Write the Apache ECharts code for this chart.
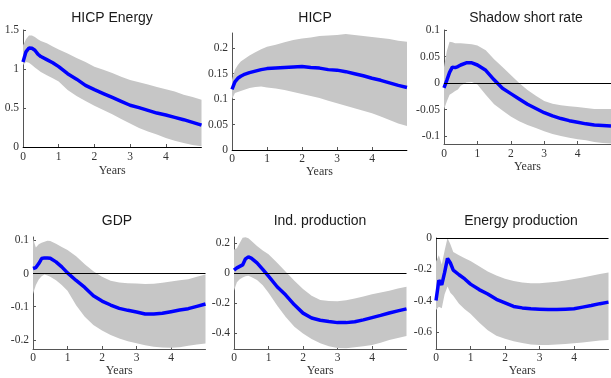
<!DOCTYPE html>
<html><head><meta charset="utf-8">
<script src="https://cdn.jsdelivr.net/npm/echarts@6/dist/echarts.min.js"></script>
<style>html,body{margin:0;padding:0;background:#fff}#c{width:611px;height:378px}</style>
</head><body><div id="c"></div>
<script>
// horizon in months (converted to years on the x axis)
const months = [0,1,2,3,4,5,6,8,10,12,15,18,21,24,27,30,33,36,39,42,45,48,51,54,57,60];
const xTicks = [0,1,2,3,4];

const titles = ["HICP Energy","HICP","Shadow short rate","GDP","Ind. production","Energy production"];

// HICP Energy
const hicpEnergyMean = [1.09,1.22,1.27,1.265,1.24,1.19,1.16,1.12,1.08,1.03,0.94,0.87,0.79,0.735,0.685,0.635,0.585,0.535,0.505,0.47,0.435,0.41,0.38,0.35,0.315,0.28];
const hicpEnergyHi   = [1.30,1.38,1.43,1.43,1.41,1.38,1.36,1.33,1.29,1.25,1.20,1.14,1.09,1.03,0.99,0.95,0.90,0.86,0.83,0.80,0.77,0.74,0.71,0.67,0.64,0.605];
const hicpEnergyLo   = [1.05,1.09,1.08,1.05,1.02,0.99,0.96,0.92,0.88,0.84,0.73,0.655,0.59,0.53,0.475,0.42,0.36,0.30,0.245,0.20,0.16,0.115,0.08,0.05,0.025,0.01];
// HICP
const hicpMean = [0.119,0.134,0.141,0.145,0.148,0.150,0.152,0.155,0.158,0.160,0.161,0.162,0.163,0.164,0.162,0.161,0.158,0.157,0.154,0.150,0.146,0.141,0.137,0.132,0.127,0.123];
const hicpHi   = [0.138,0.158,0.167,0.174,0.178,0.182,0.186,0.192,0.198,0.203,0.207,0.212,0.216,0.219,0.221,0.224,0.225,0.226,0.228,0.226,0.224,0.222,0.220,0.218,0.215,0.213];
const hicpLo   = [0.100,0.112,0.114,0.116,0.118,0.120,0.122,0.124,0.125,0.123,0.121,0.118,0.114,0.110,0.106,0.102,0.097,0.092,0.087,0.082,0.077,0.072,0.066,0.059,0.052,0.047];
// Shadow short rate
const ssrMean = [-0.009,0.005,0.020,0.030,0.029,0.031,0.034,0.038,0.038,0.034,0.024,0.006,-0.010,-0.020,-0.030,-0.040,-0.048,-0.056,-0.062,-0.067,-0.071,-0.074,-0.077,-0.079,-0.080,-0.081];
const ssrHi   = [0.030,0.060,0.078,0.077,0.075,0.075,0.075,0.074,0.073,0.071,0.062,0.045,0.030,0.015,0.000,-0.013,-0.024,-0.034,-0.039,-0.042,-0.044,-0.045,-0.047,-0.049,-0.049,-0.049];
const ssrLo   = [-0.050,-0.035,-0.022,-0.019,-0.015,-0.012,-0.005,0.001,0.002,-0.003,-0.022,-0.040,-0.052,-0.063,-0.072,-0.079,-0.085,-0.091,-0.096,-0.100,-0.103,-0.106,-0.108,-0.111,-0.113,-0.114];
// GDP
const gdpMean = [0.015,0.018,0.030,0.045,0.047,0.047,0.046,0.035,0.020,0.002,-0.021,-0.042,-0.067,-0.083,-0.095,-0.105,-0.111,-0.116,-0.122,-0.122,-0.120,-0.115,-0.110,-0.106,-0.099,-0.092];
const gdpHi   = [0.105,0.078,0.088,0.093,0.096,0.099,0.098,0.090,0.080,0.071,0.052,0.028,0.007,-0.010,-0.022,-0.027,-0.029,-0.030,-0.032,-0.031,-0.028,-0.024,-0.020,-0.017,-0.010,-0.003];
const gdpLo   = [-0.062,-0.035,-0.018,-0.008,-0.003,-0.006,-0.010,-0.020,-0.035,-0.052,-0.096,-0.130,-0.155,-0.172,-0.185,-0.196,-0.204,-0.210,-0.216,-0.221,-0.223,-0.224,-0.222,-0.218,-0.214,-0.211];
// Ind. production
const ipMean = [0.020,0.035,0.045,0.055,0.095,0.108,0.100,0.068,0.025,-0.020,-0.090,-0.145,-0.210,-0.265,-0.297,-0.312,-0.321,-0.328,-0.328,-0.322,-0.310,-0.295,-0.280,-0.264,-0.250,-0.237];
const ipHi   = [0.157,0.165,0.200,0.235,0.238,0.232,0.215,0.180,0.150,0.125,0.070,0.010,-0.050,-0.105,-0.150,-0.178,-0.185,-0.186,-0.180,-0.168,-0.155,-0.140,-0.128,-0.116,-0.102,-0.090];
const ipLo   = [-0.116,-0.060,-0.040,-0.028,-0.020,-0.017,-0.025,-0.045,-0.080,-0.130,-0.215,-0.290,-0.355,-0.400,-0.437,-0.465,-0.485,-0.497,-0.498,-0.492,-0.485,-0.476,-0.462,-0.443,-0.430,-0.417];
// Energy production
const epMean = [-0.40,-0.27,-0.30,-0.22,-0.13,-0.16,-0.205,-0.235,-0.262,-0.295,-0.33,-0.358,-0.392,-0.415,-0.438,-0.447,-0.452,-0.455,-0.458,-0.458,-0.455,-0.452,-0.442,-0.432,-0.42,-0.41];
const epHi   = [-0.15,-0.11,-0.17,-0.08,0.00,-0.04,-0.09,-0.11,-0.13,-0.147,-0.18,-0.215,-0.24,-0.26,-0.275,-0.285,-0.29,-0.29,-0.285,-0.28,-0.272,-0.263,-0.253,-0.242,-0.23,-0.221];
const epLo   = [-0.46,-0.44,-0.45,-0.36,-0.31,-0.35,-0.37,-0.42,-0.455,-0.485,-0.54,-0.59,-0.625,-0.645,-0.66,-0.672,-0.682,-0.685,-0.685,-0.682,-0.678,-0.674,-0.668,-0.662,-0.656,-0.652];

const yTicks = [
  [0,0.5,1,1.5],
  [0,0.05,0.1,0.15,0.2],
  [-0.1,-0.05,0,0.05,0.1],
  [-0.2,-0.1,0,0.1],
  [-0.4,-0.2,0,0.2],
  [-0.6,-0.4,-0.2,0]
];
const yRanges = [[0,1.5],[0,0.23],[-0.115,0.1],[-0.2275,0.11],[-0.503,0.24],[-0.71,0]];

const panels = [
  {mean:hicpEnergyMean, hi:hicpEnergyHi, lo:hicpEnergyLo},
  {mean:hicpMean, hi:hicpHi, lo:hicpLo},
  {mean:ssrMean, hi:ssrHi, lo:ssrLo},
  {mean:gdpMean, hi:gdpHi, lo:gdpLo},
  {mean:ipMean, hi:ipHi, lo:ipLo},
  {mean:epMean, hi:epHi, lo:epLo}
];

// layout
const grids = [
  {left:23, top:30, width:178.5, height:117},
  {left:232, top:33, width:175, height:117},
  {left:444, top:30, width:171, height:114},
  {left:33, top:237, width:172.5, height:114},
  {left:234, top:237, width:172.5, height:114},
  {left:436, top:238, width:172.5, height:113}
];
const titlePos = [[107,6],[310,6],[521,6],[112,209],[315,209],[516,209]];
const nameGaps = [18,15,15,16,16,16];
const labMargin = [4,3,4,3,3,3];

const years = months.map(m => m/12);
const fmt = v => String(Math.round(v*1000)/1000);
const axisColor = '#555';
const serif = '"Liberation Serif", "DejaVu Serif", serif';

const option = {
  animation:false,
  backgroundColor:'#fff',
  title: titles.map((t,i)=>({text:t, left:titlePos[i][0], top:titlePos[i][1], textAlign:'center',
    textStyle:{fontFamily:'"Liberation Sans", Arial, sans-serif', fontSize:14, fontWeight:'normal', color:'#1a1a1a'}})),
  grid: grids.map(g=>Object.assign({containLabel:false}, g)),
  xAxis: grids.map((g,i)=>({
    type:'value', gridIndex:i, min:0, max:5,
    name:'Years', nameLocation:'middle', nameGap:nameGaps[i],
    nameTextStyle:{fontFamily:serif, fontSize:12, color:'#333'},
    axisLine:{onZero:false, lineStyle:{color:axisColor, width:1}},
    axisTick:{inside:true, length:3, customValues:xTicks, lineStyle:{color:axisColor}},
    axisLabel:{customValues:xTicks, margin:labMargin[i], fontFamily:serif, fontSize:11.5, color:'#333', formatter:fmt},
    splitLine:{show:false}
  })),
  yAxis: grids.map((g,i)=>({
    type:'value', gridIndex:i, min:yRanges[i][0], max:yRanges[i][1],
    axisLine:{show:true, onZero:false, lineStyle:{color:axisColor, width:1}},
    axisTick:{show:true, inside:true, length:3, customValues:yTicks[i], lineStyle:{color:axisColor}},
    axisLabel:{customValues:yTicks[i], margin:4, fontFamily:serif, fontSize:11.5, color:'#333', formatter:fmt},
    splitLine:{show:false}
  })),
  series: []
};

panels.forEach((p,i)=>{
  const bandData = years.map((x,k)=>[x,p.lo[k],p.hi[k]]);
  option.series.push({
    type:'custom', xAxisIndex:i, yAxisIndex:i, silent:true, z:1, clip:true,
    data: bandData, encode:{x:0, y:[1,2]},
    renderItem:(params, api)=>{
      if (params.dataIndex !== 0) return;
      const pts = [];
      for (let k=0;k<bandData.length;k++) pts.push(api.coord([bandData[k][0], bandData[k][2]]));
      for (let k=bandData.length-1;k>=0;k--) pts.push(api.coord([bandData[k][0], bandData[k][1]]));
      return {type:'polygon', shape:{points:pts}, style:{fill:'#c6c6c6', stroke:null}};
    }
  });
  option.series.push({
    type:'line', xAxisIndex:i, yAxisIndex:i,
    data: years.map((x,k)=>[x,p.mean[k]]), showSymbol:false, symbol:'none',
    lineStyle:{width:0, opacity:0}, silent:true, z:2,
    markLine:{silent:true, symbol:['none','none'], label:{show:false},
      lineStyle:{color:'#000', width:1.2, type:'solid'}, data:[{yAxis:0}], animation:false}
  });
  option.series.push({
    type:'line', xAxisIndex:i, yAxisIndex:i,
    data: years.map((x,k)=>[x,p.mean[k]]), showSymbol:false, symbol:'none',
    lineStyle:{color:'#0000ff', width:3.5}, z:3
  });
});

const chart = echarts.init(document.getElementById('c'), null, {renderer:'canvas'});
chart.setOption(option);
</script>
</body></html>
